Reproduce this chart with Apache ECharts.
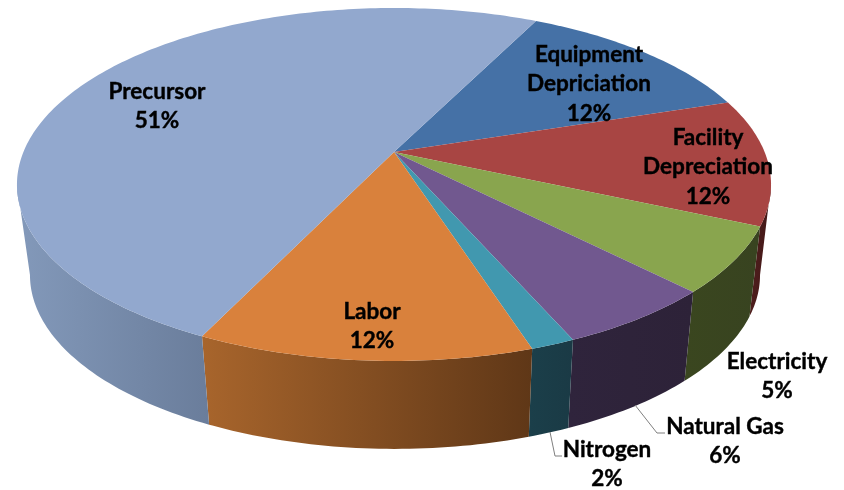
<!DOCTYPE html>
<html>
<head>
<meta charset="utf-8">
<script src="https://cdn.jsdelivr.net/npm/echarts@6/dist/echarts.min.js"></script>
<style>html,body{margin:0;background:#fff}#main{width:844px;height:490px}</style>
</head>
<body>
<div id="main"></div>
<script>
// clockwise from the Equipment slice
var categories = ['Equipment\nDepriciation', 'Facility\nDepreciation', 'Electricity', 'Natural Gas', 'Nitrogen', 'Labor', 'Precursor'];
var labelPercents = [12, 12, 5, 6, 2, 12, 51];   // printed on the chart
var sliceShares = [12.7, 11.6, 6, 5.8, 1.6, 12.1, 50.3];  // measured slice sizes, the drawing does not follow its labels exactly

var startAngle = 26.5;
var topColors = ['#4571a6', '#a84543', '#89a54e', '#71588f', '#4198af', '#d9813c', '#92a8ce'];
var wallLeft = ['#2e4c70', '#4f1e1d', '#3a461f', '#2f243c', '#1b3f4a', '#a8652c', '#8399ba'];
var wallRight = ['#2e4c70', '#431817', '#384320', '#2d2238', '#1a3a45', '#5f3717', '#6a7d9b'];

// where the label sits, label centre per line block
var labelX = [589, 708, 777, 725, 607, 372, 157];
var labelY = [84, 167, 376, 441, 464, 326, 106];
var leaders = {3: [[635, 405], [657, 433], [665, 433]], 4: [[550, 432], [555, 456], [562, 456]]};

// perspective of the pie: top face and bottom face
var persp = 0.184;
var topFace = {cx: 394, cy: 152, a: 370.6, b: 170.5};
var botFace = {cx: 395, cy: 243, a: 358.8, b: 168};

function project(face, deg, r) {
    var t = deg * Math.PI / 180;
    var u = Math.sin(t) * r, v = -Math.cos(t) * r;
    var s = 1 / (1 - persp * v);
    return [face.cx + face.a * u * s, face.cy + face.b * v * s];
}

function arc(face, from, to) {
    var pts = [];
    for (var d = from; d < to; d += 1) pts.push(project(face, d, 1));
    pts.push(project(face, to, 1));
    return pts;
}

function sliceRange(i) {
    var total = sliceShares.reduce(function (a, b) { return a + b; }, 0);
    var a = startAngle;
    for (var k = 0; k < i; k++) a += sliceShares[k] / total * 360;
    return [a, a + sliceShares[i] / total * 360];
}

function renderWall(params, api) {
    var i = api.value(0), r = sliceRange(i);
    // only the part of the side turned towards the viewer, ends at the silhouette
    var edge = Math.asin(persp) * 180 / Math.PI;
    var from = Math.max(r[0], 90 + edge), to = Math.min(r[1], 270 - edge);
    if (to <= from) return null;
    var up = arc(topFace, from, to), down = arc(botFace, from, to).reverse();
    var xs = up.concat(down).map(function (p) { return p[0]; });
    return {
        type: 'polygon',
        shape: {points: up.concat(down)},
        style: {
            fill: new echarts.graphic.LinearGradient(Math.min.apply(null, xs), 0, Math.max.apply(null, xs), 0, [
                {offset: 0, color: wallLeft[i]}, {offset: 1, color: wallRight[i]}
            ], true),
            stroke: null
        }
    };
}

function renderTop(params, api) {
    var i = api.value(0), r = sliceRange(i);
    var pts = [project(topFace, 0, 0)].concat(arc(topFace, r[0], r[1]));
    return {type: 'polygon', shape: {points: pts}, style: {fill: topColors[i], stroke: null}};
}

function renderLabel(params, api) {
    var i = api.value(0), kids = [];
    if (leaders[i]) kids.push({type: 'polyline', shape: {points: leaders[i]}, style: {fill: null, stroke: '#7f7f7f', lineWidth: 1}});
    kids.push({
        type: 'text',
        style: {
            text: categories[i] + '\n' + labelPercents[i] + '%',
            x: labelX[i], y: labelY[i], align: 'center', verticalAlign: 'middle',
            font: 'bold 22.5px Lato', lineHeight: 29.5, fill: '#000',
            stroke: '#000', lineWidth: 0.4
        }
    });
    return {type: 'group', children: kids};
}

var idx = categories.map(function (c, i) { return [i]; });
var myChart = echarts.init(document.getElementById('main'));
var option = {
    animation: false,
    series: [
        {type: 'custom', coordinateSystem: 'none', renderItem: renderWall, data: idx, silent: true, z: 1},
        {type: 'custom', coordinateSystem: 'none', renderItem: renderTop, data: idx, silent: true, z: 2},
        {type: 'custom', coordinateSystem: 'none', renderItem: renderLabel, data: idx, silent: true, z: 3}
    ]
};
myChart.setOption(option);
</script>
</body>
</html>
